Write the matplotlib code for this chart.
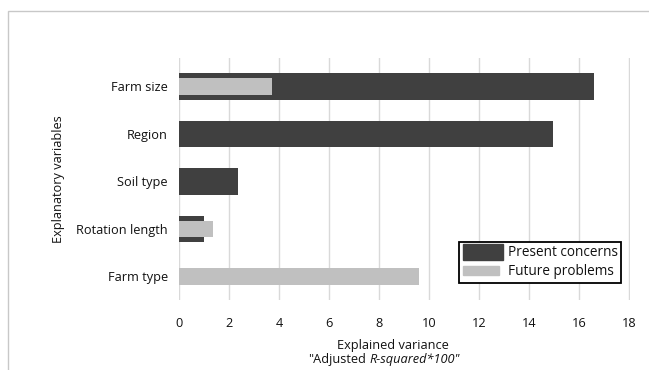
"""Explained variance bar chart (present concerns vs future problems)."""

import matplotlib

matplotlib.use("Agg")

import matplotlib.pyplot as plt
from matplotlib.legend_handler import HandlerPatch
from matplotlib.patches import Patch, Rectangle

categories = ["Farm size", "Region", "Soil type", "Rotation length", "Farm type"]
present_concerns = [16.6, 14.95, 2.35, 1.0, 0.0]
future_problems = [3.72, 0.0, 0.0, 1.35, 9.6]
x_ticks = [0, 2, 4, 6, 8, 10, 12, 14, 16, 18]

DARK = "#404040"
LIGHT = "#c0c0c0"
GRID = "#d9d9d9"
TEXT = "#111111"

plt.rcParams["font.family"] = ["Open Sans", "DejaVu Sans"]

W, H = 649, 370
fig = plt.figure(figsize=(W / 100, H / 100), dpi=100)
ax = fig.add_axes([179 / W, 1 - 300 / H, 451 / W, 242 / H])

# outer frame of the original chart area (cropped at right/bottom)
fig.patches.append(
    Rectangle((8 / W, -0.1), 1.2, (359 / H) + 0.1, transform=fig.transFigure,
              fill=False, edgecolor="#c8c8c8", linewidth=1.0)
)

y = list(range(len(categories)))
ax.barh(y, present_concerns, height=0.56, color=DARK, label="Present concerns", zorder=2)
ax.barh(y, future_problems, height=0.35, color=LIGHT, label="Future problems", zorder=3)

ax.set_ylim(len(categories) - 0.5, -0.6)
ax.set_xlim(0, 18.05)
ax.set_yticks(y)
ax.set_yticklabels(categories, fontsize=9.2, color=TEXT)
ax.set_xticks(x_ticks)
ax.set_xticklabels([str(t) for t in x_ticks], fontsize=9.2, color=TEXT)
ax.tick_params(axis="both", length=0, pad=8)
ax.tick_params(axis="x", pad=12)
ax.xaxis.grid(True, color=GRID, linewidth=1.0, zorder=0)
ax.set_axisbelow(True)
for side in ax.spines.values():
    side.set_visible(False)

ax.set_ylabel("Explanatory variables", fontsize=9.2, color=TEXT, labelpad=8)

# two-line x label, second line partly italic
fig.text(393 / W, 1 - 345 / H, "Explained variance", fontsize=9.2, color=TEXT,
         ha="center", va="center")
fig.text(366 / W, 1 - 359 / H, '"Adjusted', fontsize=9.2, color=TEXT,
         ha="right", va="center")
fig.text(369 / W, 1 - 359 / H, 'R-squared*100"', fontsize=9.2, color=TEXT,
         style="italic", ha="left", va="center")


def big_patch(legend, orig_handle, xdescent, ydescent, width, height, fontsize):
    return Rectangle((-xdescent, -ydescent - 3), width, height + 5)


def small_patch(legend, orig_handle, xdescent, ydescent, width, height, fontsize):
    return Rectangle((-xdescent, -ydescent), width * 0.88, height)


handles = [Patch(color=DARK, label="Present concerns"), Patch(color=LIGHT, label="Future problems")]
leg = ax.legend(
    handles=handles,
    loc="upper right",
    bbox_to_anchor=(0.98, 0.24),
    borderaxespad=0,
    prop={"size": 9.8},
    frameon=True,
    fancybox=False,
    framealpha=1,
    edgecolor="black",
    handlelength=3.0,
    handletextpad=0.3,
    labelspacing=0.3,
    borderpad=0.25,
    handler_map={handles[0]: HandlerPatch(patch_func=big_patch),
                 handles[1]: HandlerPatch(patch_func=small_patch)},
)
for txt in leg.get_texts():
    txt.set_color(TEXT)
leg.get_frame().set_linewidth(1.3)

fig.savefig("out.png", dpi=100)
